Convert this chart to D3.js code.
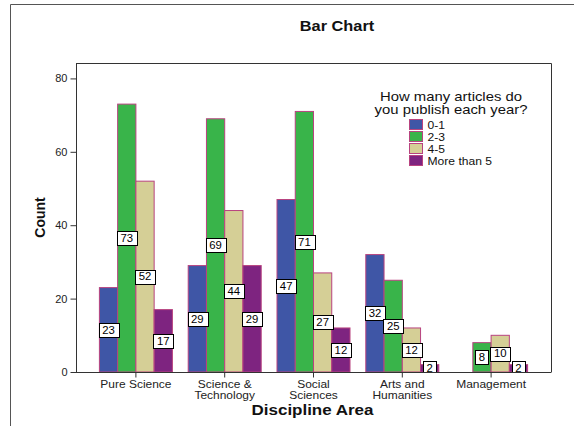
<!DOCTYPE html>
<html>
<head>
<meta charset="utf-8">
<script src="https://cdn.jsdelivr.net/npm/d3@7"></script>
<style>
  html, body { margin: 0; padding: 0; background: #fff; }
  svg { display: block; font-family: "Liberation Sans", Arial, sans-serif; }
</style>
</head>
<body>
<svg id="chart" width="574" height="426"></svg>
<script>
// Discipline areas (x categories) and answer groups (series)
const categories = [["Pure Science"], ["Science &", "Technology"], ["Social", "Sciences"], ["Arts and", "Humanities"], ["Management"]];
const seriesNames = ["0-1", "2-3", "4-5", "More than 5"];
const seriesColors = ["#3f56a6", "#39b44a", "#d5cf96", "#7e2480"];
const legendTitle = ["How many articles do", "you publish each year?"];

// Counts per discipline, one array per answer group
const counts01 = [23, 29, 47, 32, 0];
const counts23 = [73, 69, 71, 25, 8];
const counts45 = [52, 44, 27, 12, 10];
const countsMore5 = [17, 29, 12, 2, 2];

const yTicks = [0, 20, 40, 60, 80];

const series = [counts01, counts23, counts45, countsMore5];
const catKeys = categories.map(c => c.join(" "));

const svg = d3.select("#chart");

// text helper: positioned by transform, with a slight horizontal widening
function label(parent, x, y, str, opts) {
  const o = Object.assign({ size: 11, weight: "normal", anchor: "middle", k: 1.1, fill: "#111" }, opts);
  return parent.append("text")
    .attr("transform", `translate(${x},${y}) scale(${o.k},1)`)
    .attr("text-anchor", o.anchor)
    .attr("font-size", o.size + "px")
    .attr("font-weight", o.weight)
    .attr("fill", o.fill)
    .text(str);
}

// outer frame
svg.append("path")
  .attr("d", "M10.5,426 V4.5 H574")
  .attr("fill", "none").attr("stroke", "#555").attr("stroke-width", 1);

// plot box
const plot = { left: 76, right: 551, top: 63, bottom: 372 };

const x = d3.scaleBand().domain(catKeys).range([91.5, 535.5]).paddingInner(0).paddingOuter(0);
const groupW = 73;
const xs = d3.scaleBand().domain(seriesNames).range([0, groupW]);
const y = d3.scaleLinear().domain([0, 84.2]).range([plot.bottom, plot.top]);

svg.append("defs").append("clipPath").attr("id", "plotClip")
  .append("rect").attr("x", plot.left).attr("y", plot.top)
  .attr("width", plot.right - plot.left).attr("height", plot.bottom - plot.top);

// bars
const barData = [];
series.forEach((vals, si) => vals.forEach((v, ci) => barData.push({ si, ci, v })));

const barX = d => x(catKeys[d.ci]) + (x.bandwidth() - groupW) / 2 + xs(seriesNames[d.si]);

svg.append("g").selectAll("rect").data(barData.filter(d => d.v > 0)).join("rect")
  .attr("x", d => barX(d))
  .attr("y", d => y(d.v))
  .attr("width", xs.bandwidth())
  .attr("height", d => y(0) - y(d.v))
  .attr("fill", d => seriesColors[d.si])
  .attr("stroke", "#b8437f").attr("stroke-width", 1);

// plot border (top and right) and axes
svg.append("path")
  .attr("d", `M${plot.left},${plot.top + 0.5} H${plot.right + 0.5} V${plot.bottom}`)
  .attr("fill", "none").attr("stroke", "#333").attr("stroke-width", 1);

const yAxis = svg.append("g").attr("transform", `translate(${plot.left + 0.5},0)`)
  .call(d3.axisLeft(y).tickValues(yTicks).tickSize(6).tickPadding(3).tickSizeOuter(0));
yAxis.select(".domain").attr("d", `M0,${plot.top} V${plot.bottom + 0.5}`).attr("stroke", "#333");
yAxis.selectAll(".tick line").attr("stroke", "#333");
yAxis.selectAll(".tick text").attr("font-size", "11px").attr("fill", "#222")
  .attr("font-family", "Liberation Sans, Arial, sans-serif");

const xAxis = svg.append("g").attr("transform", `translate(0,${plot.bottom + 0.5})`)
  .call(d3.axisBottom(x).tickSize(5).tickFormat(""));
xAxis.select(".domain").attr("d", `M${plot.left},0 H${plot.right + 0.5}`).attr("stroke", "#333");
xAxis.selectAll(".tick line").attr("stroke", "#333");

// category labels (may wrap on two lines)
const catG = svg.append("g");
categories.forEach((lines, i) => {
  const cx = x(catKeys[i]) + x.bandwidth() / 2;
  lines.forEach((ln, j) => label(catG, cx, 388 + j * 10.5, ln, { size: 10.5, k: 1.14, fill: "#222" }));
});

// value labels: white boxes at mid-height of each bar, clipped to the plot
const labelG = svg.append("g").attr("clip-path", "url(#plotClip)");
barData.filter(d => d.v > 0).forEach(d => {
  const cx = barX(d) + xs.bandwidth() / 2;
  const cy = y(d.v / 2);
  const g = labelG.append("g");
  const t = label(g, cx, cy + 3.8, d.v, { size: 10.5, k: 1.08, fill: "#000" });
  const w = t.node().getComputedTextLength() * 1.08 + 7;
  g.insert("rect", "text")
    .attr("x", Math.round(cx - w / 2) + 0.5).attr("y", Math.round(cy - 7) + 0.5)
    .attr("width", Math.round(w)).attr("height", 14)
    .attr("fill", "#fff").attr("stroke", "#000").attr("stroke-width", 1);
});

// titles
label(svg, 337, 31, "Bar Chart", { size: 15, weight: "bold", k: 1.09 });
label(svg, 312.5, 415, "Discipline Area", { size: 14.5, weight: "bold", k: 1.17 });

svg.append("text").attr("transform", `translate(45,${(plot.top + plot.bottom) / 2}) rotate(-90)`)
  .attr("text-anchor", "middle")
  .attr("font-size", "14px").attr("font-weight", "bold").attr("fill", "#111").text("Count");

// legend: two-line title, then swatches
const legend = svg.append("g");
legendTitle.forEach((ln, i) => label(legend, 451, 101 + i * 12.5, ln, { size: 12, k: 1.24 }));

seriesNames.forEach((name, i) => {
  const row = legend.append("g").attr("transform", `translate(409.5,${119.5 + i * 12})`);
  row.append("rect").attr("width", 13).attr("height", 10)
    .attr("fill", seriesColors[i]).attr("stroke", "#b8437f").attr("stroke-width", 1);
  label(row, 18, 9, name, { size: 11, anchor: "start", k: 1.1 });
});
</script>
</body>
</html>
